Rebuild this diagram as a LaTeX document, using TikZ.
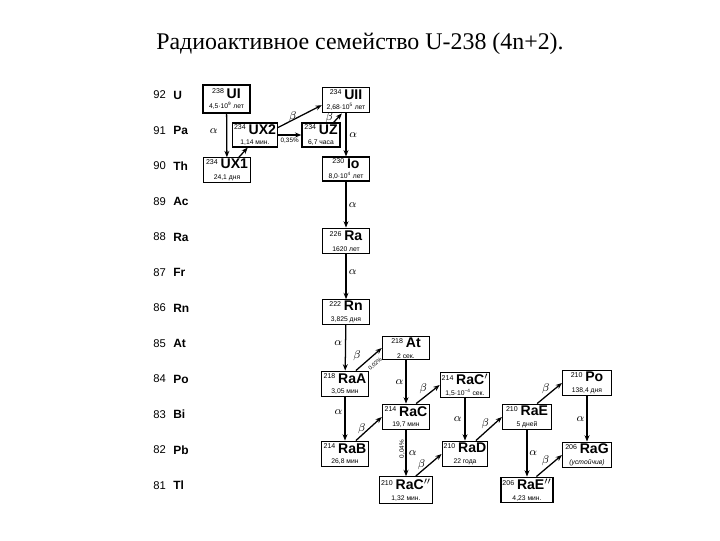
\documentclass[tikz,border=0pt]{standalone}
\usepackage{fontspec}
\setmainfont{Liberation Sans}
\newfontfamily\titlefont{Liberation Serif}
\usetikzlibrary{arrows.meta, positioning}
\newcommand{\mass}[1]{\raisebox{3.2pt}{\fontsize{5}{5}\selectfont\mdseries #1}\hspace{2pt}}
\newcommand{\life}[1]{{\fontsize{4.8}{5}\selectfont\mdseries #1}}

\begin{document}
\begin{tikzpicture}[x=0.025cm, y=-0.025cm, >={Stealth[length=4.5pt, width=3.5pt]},
    nuc/.style={draw, line width=0.9pt, minimum width=1.18cm, minimum height=0.64cm, inner sep=1pt, align=center, font=\fontsize{10}{7.5}\selectfont\bfseries},
    decay/.style={draw=black, ->, line width=0.9pt},
    lab/.style={font=\fontsize{8.5}{8}\selectfont, inner sep=1pt},
    pct/.style={font=\fontsize{4.5}{5}\selectfont, inner sep=0.5pt}]

    \useasboundingbox (0,0) rectangle (720,540);

    % Title
    \node[font=\titlefont\fontsize{17}{19}\selectfont] (title) at (360,44) {Радиоактивное семейство U-238 (4n+2).};

    % Atomic numbers and elements
    \foreach \z/\el [count=\i from 0] in {92/U, 91/Pa, 90/Th, 89/Ac, 88/Ra, 87/Fr, 86/Rn, 85/At, 84/Po, 83/Bi, 82/Pb, 81/Tl} {
        \node[anchor=west, font=\fontsize{8}{8}\selectfont, inner sep=0pt] (z\z) at (153, 95+35.5*\i) {\z};
        \node[anchor=west, font=\fontsize{8.5}{8}\selectfont\bfseries, inner sep=0pt] (el\z) at (173, 95+35.5*\i) {\el};
    }

    % Uranium part
    \node[nuc, minimum height=0.7cm] (ui) at (226.5,99) {\mass{238}UI\\\life{4,5·10\textsuperscript{9} лет}};
    \node[nuc] (uii) at (346,100) {\mass{234}UII\\\life{2,68·10\textsuperscript{5} лет}};
    \node[nuc, minimum width=1.1cm, minimum height=0.6cm] (ux2) at (255,135) {\mass{234}UX2\\\life{1,14 мин.}};
    \node[nuc, minimum width=0.95cm, minimum height=0.6cm] (uz) at (321,135) {\mass{234}UZ\\\life{6,7 часа}};
    \node[nuc, minimum height=0.6cm] (ux1) at (227,170) {\mass{234}UX1\\\life{24,1 дня}};
    \node[nuc, minimum height=0.57cm] (io) at (346,169) {\mass{230}Io\\\life{8,0·10\textsuperscript{4} лет}};

    % Radium and radon
    \node[nuc] (ra) at (346,241) {\mass{226}Ra\\\life{1620 лет}};
    \node[nuc, minimum height=0.58cm] (rn) at (346,312) {\mass{222}Rn\\\life{3,825 дня}};

    % Active deposit
    \node[nuc, minimum height=0.58cm] (at) at (406,348) {\mass{218}At\\\life{2 сек.}};
    \node[nuc] (raa) at (345,384) {\mass{218}RaA\\\life{3,05 мин}};
    \node[nuc, minimum width=1.13cm] (racp) at (465,385) {\mass{214}RaC$'$\\\life{1,5·10\textsuperscript{−4} сек.}};
    \node[nuc, minimum width=1.22cm, minimum height=0.58cm] (po) at (587,383) {\mass{210}Po\\\life{138,4 дня}};
    \node[nuc] (rac) at (406,417) {\mass{214}RaC\\\life{19,7 мин}};
    \node[nuc, minimum width=1.22cm] (rae) at (527,417) {\mass{210}RaE\\\life{5 дней}};
    \node[nuc] (rab) at (345,454) {\mass{214}RaB\\\life{26,8 мин}};
    \node[nuc, minimum width=1.13cm] (rad) at (465,454) {\mass{210}RaD\\\life{22 года}};
    \node[nuc, minimum width=1.22cm] (rag) at (587,455) {\mass{206}RaG\\\life{\itshape (устойчив)}};
    \node[nuc, minimum width=1.3cm, minimum height=0.66cm] (racpp) at (406,490) {\mass{210}RaC$''$\\\life{1,32 мин.}};
    \node[nuc, minimum width=1.22cm] (raepp) at (527,490) {\mass{206}RaE$''$\\\life{4,23 мин.}};

    % Decays
    \draw[decay] (ui) -- node[lab, pos=0.4, left=5pt] {$\alpha$} (ux1);
    \draw[decay] (ux1.47) -- (ux2.-120);
    \draw[decay] (ux2.18) -- node[lab, left=1pt] {$\beta$} (uii.192);
    \draw[decay] (ux2) -- node[pct, below=1pt] {0,35\%} (uz);
    \draw[decay] (uz.45) -- node[lab, left=2pt] {$\beta$} (uii.-107);
    \draw[decay] (uii) -- node[lab, right=1pt] {$\alpha$} (io);
    \draw[decay] (io) -- node[lab, right=0.5pt] {$\alpha$} (ra);
    \draw[decay] (ra) -- node[lab, pos=0.4, right=0.5pt] {$\alpha$} (rn);
    \draw[decay] (rn) -- node[lab, pos=0.4, left=1pt] {$\alpha$} (raa);
    \draw[decay] (raa.51) -- node[lab, pos=0.3, above left=1pt] {$\beta$} node[pct, font=\fontsize{4}{4}\selectfont, pos=0.55, sloped, below=3pt] {0,02\%} (at.west);
    \draw[decay] (at) -- node[lab, left=0.5pt] {$\alpha$} (rac);
    \draw[decay] (raa) -- node[lab, pos=0.35, left=0.5pt] {$\alpha$} (rab);
    \draw[decay] (rac.53) -- node[lab, above left=-1pt] {$\beta$} (racp.west);
    \draw[decay] (rab.51) -- node[lab, left=1pt] {$\beta$} (rac.west);
    \draw[decay] (rac) -- node[lab, right=0.5pt] {$\alpha$} node[pct, rotate=90, above=3pt] {0,04\%} (racpp);
    \draw[decay] (racpp.55) -- node[lab, left=1pt] {$\beta$} (rad.west);
    \draw[decay] (racp) -- node[lab, left=1pt] {$\alpha$} (rad);
    \draw[decay] (rad.51) -- node[lab, above left=-2pt] {$\beta$} (rae.west);
    \draw[decay] (rae.53) -- node[lab, above left=-2pt] {$\beta$} (po.west);
    \draw[decay] (po) -- node[lab, left=0.5pt] {$\alpha$} (rag);
    \draw[decay] (rae) -- node[lab, right=0.3pt] {$\alpha$} (raepp);
    \draw[decay] (raepp.55) -- node[lab, above left=-2pt] {$\beta$} (rag.west);
\end{tikzpicture}
\end{document}
